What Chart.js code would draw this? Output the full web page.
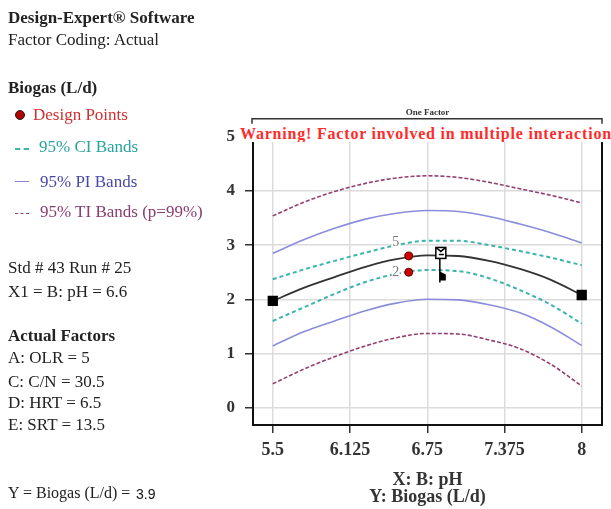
<!DOCTYPE html>
<html>
<head>
<meta charset="utf-8">
<script src="https://cdn.jsdelivr.net/npm/chart.js@4.4.1/dist/chart.umd.min.js"></script>
<style>
  html, body { margin: 0; padding: 0; background: #fff; }
  #page { position: relative; width: 611px; height: 509px; overflow: hidden; font-family: "Liberation Serif", "Times New Roman", serif; }
  #chart { position: absolute; left: 0; top: 0; }
  .t { position: absolute; left: 8px; font-size: 17px; line-height: 18px; color: #222; white-space: nowrap; }
  .b { font-weight: bold; }
  .mark { position: absolute; left: 15px; width: 14px; height: 0; }
  #warn { position: absolute; left: 240px; top: 125px; width: 371px; height: 17px; line-height: 18px; background: #fff;
          color: #ff2b2b; font-weight: bold; font-size: 16px; letter-spacing: 0.8px; white-space: nowrap; overflow: hidden; }
</style>
</head>
<body>
<div id="page">
  <canvas id="chart" width="611" height="509"></canvas>

  <div class="t b" style="top:9px">Design-Expert® Software</div>
  <div class="t" style="top:31px">Factor Coding: Actual</div>

  <div class="t b" style="top:79px">Biogas (L/d)</div>
  <div style="position:absolute;left:15px;top:110px;width:10px;height:10px;border-radius:50%;background:#b00000;border:1px solid #222;box-sizing:border-box"></div>
  <div class="t" style="top:106px;left:33px;color:#d03030">Design Points</div>
  <div class="mark" style="top:148px;border-top:2px dashed #3cb4ae"></div>
  <div class="t" style="top:138px;left:39px;color:#2aa39e">95% CI Bands</div>
  <div class="mark" style="top:181px;border-top:1px solid #8888d8"></div>
  <div class="t" style="top:173px;left:40px;color:#4848a8">95% PI Bands</div>
  <div class="mark" style="top:213px;border-top:1px dashed #93406f"></div>
  <div class="t" style="top:203px;left:40px;color:#8c3c70">95% TI Bands (p=99%)</div>

  <div class="t" style="top:259px">Std # 43 Run # 25</div>
  <div class="t" style="top:283px">X1 = B: pH = 6.6</div>

  <div class="t b" style="top:327px">Actual Factors</div>
  <div class="t" style="top:349px">A: OLR = 5</div>
  <div class="t" style="top:373px">C: C/N = 30.5</div>
  <div class="t" style="top:394px">D: HRT = 6.5</div>
  <div class="t" style="top:416px">E: SRT = 13.5</div>

  <div class="t" style="top:484px;font-size:16px">Y = Biogas (L/d) =</div>
  <div class="t" style="top:485px;left:136px;font-family:'Liberation Sans',Arial,sans-serif;font-size:14px;color:#111">3.9</div>

  <div id="warn">Warning! Factor involved in multiple interactions.</div>
</div>

<script>
// pH values along the fitted curve
const phValues = [5.5, 5.75, 6.0, 6.25, 6.5, 6.75, 7.0, 7.25, 7.5, 7.75, 8.0];
// predicted biogas and bands (L/d)
const predicted = [1.97, 2.21, 2.41, 2.60, 2.74, 2.81, 2.80, 2.71, 2.56, 2.36, 2.08];
const ciUpper = [2.37, 2.55, 2.71, 2.86, 3.00, 3.08, 3.08, 3.00, 2.89, 2.77, 2.63];
const ciLower = [1.60, 1.85, 2.10, 2.32, 2.47, 2.54, 2.52, 2.39, 2.17, 1.90, 1.55];
const piUpper = [2.85, 3.10, 3.31, 3.48, 3.59, 3.64, 3.62, 3.53, 3.39, 3.23, 3.04];
const piLower = [1.14, 1.40, 1.60, 1.79, 1.93, 2.00, 1.99, 1.90, 1.75, 1.49, 1.15];
const tiUpper = [3.54, 3.79, 3.99, 4.14, 4.24, 4.28, 4.25, 4.16, 4.04, 3.92, 3.78];
const tiLower = [0.44, 0.71, 0.94, 1.14, 1.29, 1.37, 1.36, 1.25, 1.09, 0.80, 0.40];

// design points
const designPh = [6.6, 6.6];
const designBiogas = [2.80, 2.50];
const designCounts = ['5', '2'];

// current-point flag
const flagPh = [6.86];
const flagBiogas = [2.81];

// axis ticks
const phTicks = [5.5, 6.125, 6.75, 7.375, 8];
const biogasTicks = [0, 1, 2, 3, 4, 5];

const serif = '"Liberation Serif", "Times New Roman", serif';

function pairs(xs, ys) {
  return xs.map((x, i) => ({x: x, y: ys[i]}));
}

const lastIdx = phValues.length - 1;

const data = {
  datasets: [
    {
      label: 'Design Points',
      data: pairs(designPh, designBiogas),
      showLine: false,
      pointRadius: 4,
      pointBackgroundColor: '#cc0000',
      pointBorderColor: '#660000',
      pointBorderWidth: 1
    },
    {
      label: 'Predicted',
      data: pairs(phValues, predicted),
      borderColor: '#333',
      borderWidth: 1.8,
      pointStyle: 'rect',
      pointRadius: phValues.map((v, i) => (i === 0 || i === lastIdx) ? 6 : 0),
      pointBackgroundColor: '#000',
      pointBorderColor: '#000',
      cubicInterpolationMode: 'monotone'
    },
    {
      label: '95% CI upper',
      data: pairs(phValues, ciUpper),
      borderColor: '#3cb4ae', borderWidth: 2, borderDash: [4, 3],
      pointRadius: 0, cubicInterpolationMode: 'monotone'
    },
    {
      label: '95% CI lower',
      data: pairs(phValues, ciLower),
      borderColor: '#3cb4ae', borderWidth: 2, borderDash: [4, 3],
      pointRadius: 0, cubicInterpolationMode: 'monotone'
    },
    {
      label: '95% PI upper',
      data: pairs(phValues, piUpper),
      borderColor: '#8c8cdc', borderWidth: 1.6,
      pointRadius: 0, cubicInterpolationMode: 'monotone'
    },
    {
      label: '95% PI lower',
      data: pairs(phValues, piLower),
      borderColor: '#8c8cdc', borderWidth: 1.6,
      pointRadius: 0, cubicInterpolationMode: 'monotone'
    },
    {
      label: '95% TI upper',
      data: pairs(phValues, tiUpper),
      borderColor: '#93406f', borderWidth: 1.6, borderDash: [4, 2],
      pointRadius: 0, cubicInterpolationMode: 'monotone'
    },
    {
      label: '95% TI lower',
      data: pairs(phValues, tiLower),
      borderColor: '#93406f', borderWidth: 1.6, borderDash: [4, 2],
      pointRadius: 0, cubicInterpolationMode: 'monotone'
    }
  ]
};

// frame, "One Factor" bracket, point counts and the flag
const decorPlugin = {
  id: 'decor',
  afterDraw(chart) {
    const {ctx, chartArea: {top, bottom, left, right}, scales: {x, y}} = chart;
    ctx.save();

    // right edge of the frame
    ctx.strokeStyle = '#111';
    ctx.lineWidth = 2;
    ctx.beginPath();
    ctx.moveTo(right, top);
    ctx.lineTo(right, bottom + 1);
    ctx.stroke();

    // bracket under the "One Factor" header
    const by = top - 18;
    ctx.strokeStyle = '#333';
    ctx.lineWidth = 1.5;
    ctx.beginPath();
    ctx.moveTo(left - 1, by + 5);
    ctx.lineTo(left - 1, by);
    ctx.lineTo(right, by);
    ctx.lineTo(right, by + 5);
    ctx.stroke();

    // replicate counts next to the design points
    const labelDy = [-14, 0];
    ctx.font = '14px ' + serif;
    ctx.textAlign = 'center';
    ctx.textBaseline = 'middle';
    designCounts.forEach((txt, i) => {
      const px = x.getPixelForValue(designPh[i]) - 13;
      const py = y.getPixelForValue(designBiogas[i]) + labelDy[i];
      ctx.fillStyle = '#fff';
      ctx.fillRect(px - 4, py - 6, 8, 12);
      ctx.fillStyle = '#777';
      ctx.fillText(txt, px, py);
    });

    // flag marker
    flagPh.forEach((fx, i) => {
      const px = x.getPixelForValue(fx);
      const py = y.getPixelForValue(flagBiogas[i]);
      ctx.fillStyle = '#fff';
      ctx.fillRect(px - 5, py - 8, 10, 11);
      ctx.strokeStyle = '#000';
      ctx.lineWidth = 1.5;
      ctx.strokeRect(px - 5, py - 8, 10, 11);
      ctx.beginPath();
      ctx.moveTo(px - 5, py - 8);
      ctx.lineTo(px, py - 4);
      ctx.lineTo(px + 5, py - 8);
      ctx.moveTo(px - 2, py - 1);
      ctx.lineTo(px + 3, py - 1);
      ctx.moveTo(px - 1, py + 3);
      ctx.lineTo(px - 1, py + 27);
      ctx.stroke();
      ctx.fillStyle = '#000';
      ctx.beginPath();
      ctx.moveTo(px - 1, py + 16);
      ctx.lineTo(px + 5, py + 19);
      ctx.lineTo(px + 5, py + 25);
      ctx.lineTo(px - 1, py + 25);
      ctx.closePath();
      ctx.fill();
    });

    ctx.restore();
  }
};

const config = {
  type: 'line',
  data,
  options: {
    responsive: false,
    animation: false,
    layout: {
      padding: {left: 223, right: 9, top: 0, bottom: 0}
    },
    plugins: {
      legend: {display: false},
      tooltip: {enabled: false},
      title: {
        display: true,
        text: 'One Factor',
        fullSize: false,
        color: '#333',
        font: {family: serif, size: 9, weight: 'bold'},
        padding: {top: 107, bottom: 19}
      }
    },
    scales: {
      x: {
        type: 'linear',
        min: 5.34,
        max: 8.164,
        afterBuildTicks: (axis) => { axis.ticks = phTicks.map(v => ({value: v})); },
        afterFit: (axis) => { axis.height = 84; },
        grid: {color: '#dcdcdc', lineWidth: 1.5, tickLength: 8, tickColor: '#333', tickWidth: 1.5},
        border: {color: '#111', width: 2},
        ticks: {
          font: {family: serif, size: 18, weight: 'bold'},
          color: '#333',
          padding: 7,
          maxRotation: 0,
          autoSkip: false,
          callback: (v) => String(v)
        },
        title: {
          display: true,
          text: ['X: B: pH', 'Y: Biogas (L/d)'],
          color: '#333',
          font: {family: serif, size: 18, weight: 'bold', lineHeight: 0.95},
          padding: {top: 0, bottom: 3}
        }
      },
      y: {
        type: 'linear',
        min: -0.32,
        max: 5,
        afterBuildTicks: (axis) => { axis.ticks = biogasTicks.map(v => ({value: v})); },
        afterFit: (axis) => { axis.width = 30; },
        grid: {color: '#dcdcdc', lineWidth: 1.5, tickLength: 8, tickColor: '#333', tickWidth: 1.5},
        border: {color: '#111', width: 2},
        ticks: {
          font: {family: serif, size: 17, weight: 'bold'},
          color: '#333',
          padding: 10,
          callback: (v) => String(v)
        }
      }
    }
  },
  plugins: [decorPlugin]
};

new Chart(document.getElementById('chart'), config);
</script>
</body>
</html>
